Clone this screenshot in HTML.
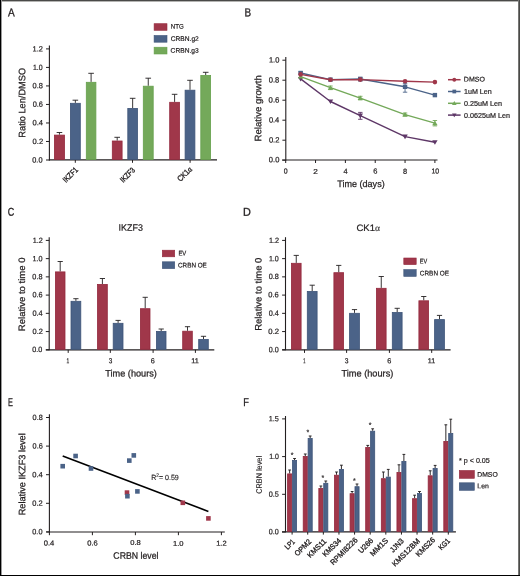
<!DOCTYPE html>
<html><head><meta charset="utf-8"><style>
html,body{margin:0;padding:0;background:#fff;}
svg{display:block;will-change:transform;}
text{font-family:"Liberation Sans",sans-serif;fill:#231f20;stroke:#231f20;stroke-width:0.15px;}
</style></head><body>
<svg width="520" height="576" viewBox="0 0 520 576">
<rect x="0" y="0" width="520" height="576" fill="#ffffff"/>
<text id="t1" font-size="11.4" style="stroke-width:0.3px" transform="translate(8.042 16.152) matrix(0.8829 .0005 0 1 0 0)">A</text>
<line x1="49.4" y1="45.6" x2="49.4" y2="160.4" stroke="#231f20" stroke-width="1.1"/>
<line x1="46" y1="160" x2="49.4" y2="160" stroke="#231f20" stroke-width="1"/>
<text id="t2" font-size="7.58" style="stroke-width:0.22px" text-anchor="end" transform="translate(42.509 162.413) matrix(0.9730 .0005 0 1 0 0)">0.0</text>
<line x1="46" y1="141.48" x2="49.4" y2="141.48" stroke="#231f20" stroke-width="1"/>
<text id="t3" font-size="7.58" style="stroke-width:0.22px" text-anchor="end" transform="translate(43.077 143.909) matrix(0.9951 .0005 0 1 0 0)">0.2</text>
<line x1="46" y1="122.97" x2="49.4" y2="122.97" stroke="#231f20" stroke-width="1"/>
<text id="t4" font-size="7.58" style="stroke-width:0.22px" text-anchor="end" transform="translate(42.973 125.179) matrix(0.9930 .0005 0 1 0 0)">0.4</text>
<line x1="46" y1="104.45" x2="49.4" y2="104.45" stroke="#231f20" stroke-width="1"/>
<text id="t5" font-size="7.58" style="stroke-width:0.22px" text-anchor="end" transform="translate(42.937 106.843) matrix(0.9746 .0005 0 1 0 0)">0.6</text>
<line x1="46" y1="85.93" x2="49.4" y2="85.93" stroke="#231f20" stroke-width="1"/>
<text id="t6" font-size="7.58" style="stroke-width:0.22px" text-anchor="end" transform="translate(42.893 88.308) matrix(0.9788 .0005 0 1 0 0)">0.8</text>
<line x1="46" y1="67.42" x2="49.4" y2="67.42" stroke="#231f20" stroke-width="1"/>
<text id="t7" font-size="7.58" style="stroke-width:0.22px" text-anchor="end" transform="translate(42.624 69.921) matrix(0.9179 .0005 0 1 0 0)">1.0</text>
<line x1="46" y1="48.9" x2="49.4" y2="48.9" stroke="#231f20" stroke-width="1"/>
<text id="t8" font-size="7.58" style="stroke-width:0.22px" text-anchor="end" transform="translate(42.928 51.394) matrix(0.9815 .0005 0 1 0 0)">1.2</text>
<line x1="48.9" y1="159.9" x2="217" y2="159.9" stroke="#231f20" stroke-width="1.2"/>
<line x1="59.45" y1="134.7" x2="59.45" y2="132.5" stroke="#231f20" stroke-width="0.9"/>
<line x1="56.65" y1="132.5" x2="62.25" y2="132.5" stroke="#231f20" stroke-width="0.9"/>
<rect x="54.4" y="135.1" width="10.1" height="24.3" fill="#a0374a" stroke="#93283d" stroke-width="0.8"/>
<line x1="75.35" y1="102.9" x2="75.35" y2="100.2" stroke="#231f20" stroke-width="0.9"/>
<line x1="72.55" y1="100.2" x2="78.15" y2="100.2" stroke="#231f20" stroke-width="0.9"/>
<rect x="70.4" y="103.3" width="9.9" height="56.1" fill="#4b6388" stroke="#3e5478" stroke-width="0.8"/>
<line x1="91.1" y1="81.9" x2="91.1" y2="73.3" stroke="#231f20" stroke-width="0.9"/>
<line x1="88.3" y1="73.3" x2="93.9" y2="73.3" stroke="#231f20" stroke-width="0.9"/>
<rect x="86.3" y="82.3" width="9.6" height="77.1" fill="#74a95a" stroke="#66a04c" stroke-width="0.8"/>
<line x1="117.2" y1="140.6" x2="117.2" y2="137.3" stroke="#231f20" stroke-width="0.9"/>
<line x1="114.4" y1="137.3" x2="120" y2="137.3" stroke="#231f20" stroke-width="0.9"/>
<rect x="112.3" y="141" width="9.8" height="18.4" fill="#a0374a" stroke="#93283d" stroke-width="0.8"/>
<line x1="132.65" y1="108" x2="132.65" y2="98.3" stroke="#231f20" stroke-width="0.9"/>
<line x1="129.85" y1="98.3" x2="135.45" y2="98.3" stroke="#231f20" stroke-width="0.9"/>
<rect x="127.8" y="108.4" width="9.7" height="51" fill="#4b6388" stroke="#3e5478" stroke-width="0.8"/>
<line x1="148.25" y1="85.8" x2="148.25" y2="78.2" stroke="#231f20" stroke-width="0.9"/>
<line x1="145.45" y1="78.2" x2="151.05" y2="78.2" stroke="#231f20" stroke-width="0.9"/>
<rect x="143.3" y="86.2" width="9.9" height="73.2" fill="#74a95a" stroke="#66a04c" stroke-width="0.8"/>
<line x1="174.6" y1="101.9" x2="174.6" y2="94.3" stroke="#231f20" stroke-width="0.9"/>
<line x1="171.8" y1="94.3" x2="177.4" y2="94.3" stroke="#231f20" stroke-width="0.9"/>
<rect x="169.7" y="102.3" width="9.8" height="57.1" fill="#a0374a" stroke="#93283d" stroke-width="0.8"/>
<line x1="190" y1="89.8" x2="190" y2="80.3" stroke="#231f20" stroke-width="0.9"/>
<line x1="187.2" y1="80.3" x2="192.8" y2="80.3" stroke="#231f20" stroke-width="0.9"/>
<rect x="185.1" y="90.2" width="9.8" height="69.2" fill="#4b6388" stroke="#3e5478" stroke-width="0.8"/>
<line x1="205.7" y1="75" x2="205.7" y2="72.3" stroke="#231f20" stroke-width="0.9"/>
<line x1="202.9" y1="72.3" x2="208.5" y2="72.3" stroke="#231f20" stroke-width="0.9"/>
<rect x="200.8" y="75.4" width="9.8" height="84" fill="#74a95a" stroke="#66a04c" stroke-width="0.8"/>
<line x1="75.3" y1="160" x2="75.3" y2="162.8" stroke="#231f20" stroke-width="1"/>
<line x1="132.5" y1="160" x2="132.5" y2="162.8" stroke="#231f20" stroke-width="1"/>
<line x1="190.1" y1="160" x2="190.1" y2="162.8" stroke="#231f20" stroke-width="1"/>
<text id="rA1" font-size="8" style="stroke-width:0.35px" text-anchor="end" transform="translate(78.605 170.400) rotate(-45) matrix(0.8220 .0005 0 1 0 0)">IKZF1</text>
<text id="rA2" font-size="8" style="stroke-width:0.35px" text-anchor="end" transform="translate(135.465 170.850) rotate(-45) matrix(0.7977 .0005 0 1 0 0)">IKZF3</text>
<text id="rA3" font-size="8" style="stroke-width:0.35px" text-anchor="end" transform="translate(192.595 169.860) rotate(-45) matrix(0.8663 .0005 0 1 0 0)">CK1<tspan font-family="Liberation Serif">α</tspan></text>
<text id="t9" font-size="9.35" style="stroke-width:0.25px" text-anchor="middle" transform="translate(25.197 102.775) rotate(-90) matrix(0.9877 .0005 0 1 0 0)">Ratio Len/DMSO</text>
<rect x="154.1" y="23.7" width="12.9" height="6.6" fill="#a0374a" stroke="#93283d" stroke-width="0.6"/>
<text id="t10" font-size="6.75" style="stroke-width:0.2px" transform="translate(170.859 28.627) matrix(0.9163 .0005 0 1 0 0)">NTG</text>
<rect x="154.1" y="35.5" width="12.9" height="6.7" fill="#4b6388" stroke="#3e5478" stroke-width="0.6"/>
<text id="t11" font-size="6.75" style="stroke-width:0.2px" transform="translate(170.675 41.087) matrix(0.9884 .0005 0 1 0 0)">CRBN.g2</text>
<rect x="154.1" y="47.2" width="12.9" height="6.8" fill="#74a95a" stroke="#66a04c" stroke-width="0.6"/>
<text id="t12" font-size="6.75" style="stroke-width:0.2px" transform="translate(170.623 52.651) matrix(0.9857 .0005 0 1 0 0)">CRBN.g3</text>
<text id="t13" font-size="11.4" style="stroke-width:0.3px" transform="translate(244.394 16.187) matrix(0.8741 .0005 0 1 0 0)">B</text>
<line x1="285.8" y1="57" x2="285.8" y2="160.4" stroke="#231f20" stroke-width="1.1"/>
<line x1="282.4" y1="160.2" x2="285.8" y2="160.2" stroke="#231f20" stroke-width="1"/>
<text id="t14" font-size="7.58" style="stroke-width:0.22px" text-anchor="end" transform="translate(279.325 162.359) matrix(0.9937 .0005 0 1 0 0)">0.0</text>
<line x1="282.4" y1="140.2" x2="285.8" y2="140.2" stroke="#231f20" stroke-width="1"/>
<text id="t15" font-size="7.58" style="stroke-width:0.22px" text-anchor="end" transform="translate(279.439 142.450) matrix(1.0021 .0005 0 1 0 0)">0.2</text>
<line x1="282.4" y1="120.2" x2="285.8" y2="120.2" stroke="#231f20" stroke-width="1"/>
<text id="t16" font-size="7.58" style="stroke-width:0.22px" text-anchor="end" transform="translate(279.266 122.431) matrix(0.9875 .0005 0 1 0 0)">0.4</text>
<line x1="282.4" y1="100.2" x2="285.8" y2="100.2" stroke="#231f20" stroke-width="1"/>
<text id="t17" font-size="7.58" style="stroke-width:0.22px" text-anchor="end" transform="translate(279.427 102.392) matrix(1.0279 .0005 0 1 0 0)">0.6</text>
<line x1="282.4" y1="80.2" x2="285.8" y2="80.2" stroke="#231f20" stroke-width="1"/>
<text id="t18" font-size="7.58" style="stroke-width:0.22px" text-anchor="end" transform="translate(279.252 82.405) matrix(0.9995 .0005 0 1 0 0)">0.8</text>
<line x1="282.4" y1="60.2" x2="285.8" y2="60.2" stroke="#231f20" stroke-width="1"/>
<text id="t19" font-size="7.58" style="stroke-width:0.22px" text-anchor="end" transform="translate(279.379 62.485) matrix(0.9897 .0005 0 1 0 0)">1.0</text>
<line x1="282.1" y1="160" x2="437.5" y2="160" stroke="#231f20" stroke-width="1.2"/>
<line x1="285.7" y1="160" x2="285.7" y2="163" stroke="#231f20" stroke-width="1"/>
<text id="t20" font-size="7.25" style="stroke-width:0.22px" text-anchor="middle" transform="translate(285.774 173.604) matrix(0.9588 .0005 0 1 0 0)">0</text>
<line x1="315.54" y1="160" x2="315.54" y2="163" stroke="#231f20" stroke-width="1"/>
<text id="t21" font-size="7.25" style="stroke-width:0.22px" text-anchor="middle" transform="translate(315.633 173.558) matrix(1.1236 .0005 0 1 0 0)">2</text>
<line x1="345.38" y1="160" x2="345.38" y2="163" stroke="#231f20" stroke-width="1"/>
<text id="t22" font-size="7.25" style="stroke-width:0.22px" text-anchor="middle" transform="translate(345.521 173.691) matrix(1.0172 .0005 0 1 0 0)">4</text>
<line x1="375.22" y1="160" x2="375.22" y2="163" stroke="#231f20" stroke-width="1"/>
<text id="t23" font-size="7.25" style="stroke-width:0.22px" text-anchor="middle" transform="translate(375.430 173.488) matrix(1.0367 .0005 0 1 0 0)">6</text>
<line x1="405.06" y1="160" x2="405.06" y2="163" stroke="#231f20" stroke-width="1"/>
<text id="t24" font-size="7.25" style="stroke-width:0.22px" text-anchor="middle" transform="translate(405.130 173.643) matrix(1.0319 .0005 0 1 0 0)">8</text>
<line x1="434.9" y1="160" x2="434.9" y2="163" stroke="#231f20" stroke-width="1"/>
<text id="t25" font-size="7.25" style="stroke-width:0.22px" text-anchor="middle" transform="translate(435.315 173.569) matrix(0.9562 .0005 0 1 0 0)">10</text>
<text id="t26" font-size="9.35" style="stroke-width:0.25px" text-anchor="middle" transform="translate(360.984 186.920) matrix(0.9686 .0005 0 1 0 0)">Time (days)</text>
<text id="t27" font-size="9.35" style="stroke-width:0.25px" text-anchor="middle" transform="translate(261.264 108.325) rotate(-90) matrix(1.0280 .0005 0 1 0 0)">Relative growth</text>
<polyline points="300.62,78.9 330.46,101.5 360.3,115.6 405.06,136.6 434.9,142.3" fill="none" stroke="#5e3767" stroke-width="1.4" stroke-linejoin="round"/>
<line x1="360.3" y1="112.4" x2="360.3" y2="119.3" stroke="#5e3767" stroke-width="0.9"/>
<line x1="358.1" y1="112.4" x2="362.5" y2="112.4" stroke="#5e3767" stroke-width="0.9"/>
<line x1="358.1" y1="119.3" x2="362.5" y2="119.3" stroke="#5e3767" stroke-width="0.9"/>
<path d="M297.92 76.88L303.32 76.88L300.62 81.47Z" fill="#5e3767"/>
<path d="M327.76 99.47L333.16 99.47L330.46 104.06Z" fill="#5e3767"/>
<path d="M357.6 113.57L363 113.57L360.3 118.16Z" fill="#5e3767"/>
<path d="M402.36 134.57L407.76 134.57L405.06 139.16Z" fill="#5e3767"/>
<path d="M432.2 140.28L437.6 140.28L434.9 144.87Z" fill="#5e3767"/>
<polyline points="300.62,76.6 330.46,87.7 360.3,98.1 405.06,114.6 434.9,123.2" fill="none" stroke="#74a95a" stroke-width="1.4" stroke-linejoin="round"/>
<line x1="330.46" y1="86" x2="330.46" y2="89.6" stroke="#74a95a" stroke-width="0.9"/>
<line x1="328.26" y1="86" x2="332.66" y2="86" stroke="#74a95a" stroke-width="0.9"/>
<line x1="328.26" y1="89.6" x2="332.66" y2="89.6" stroke="#74a95a" stroke-width="0.9"/>
<line x1="360.3" y1="96.3" x2="360.3" y2="99.9" stroke="#74a95a" stroke-width="0.9"/>
<line x1="358.1" y1="96.3" x2="362.5" y2="96.3" stroke="#74a95a" stroke-width="0.9"/>
<line x1="358.1" y1="99.9" x2="362.5" y2="99.9" stroke="#74a95a" stroke-width="0.9"/>
<line x1="405.06" y1="113" x2="405.06" y2="116.2" stroke="#74a95a" stroke-width="0.9"/>
<line x1="402.86" y1="113" x2="407.26" y2="113" stroke="#74a95a" stroke-width="0.9"/>
<line x1="402.86" y1="116.2" x2="407.26" y2="116.2" stroke="#74a95a" stroke-width="0.9"/>
<line x1="434.9" y1="120.5" x2="434.9" y2="125.9" stroke="#74a95a" stroke-width="0.9"/>
<line x1="432.7" y1="120.5" x2="437.1" y2="120.5" stroke="#74a95a" stroke-width="0.9"/>
<line x1="432.7" y1="125.9" x2="437.1" y2="125.9" stroke="#74a95a" stroke-width="0.9"/>
<path d="M297.92 78.62L303.32 78.62L300.62 74.03Z" fill="#74a95a"/>
<path d="M327.76 89.73L333.16 89.73L330.46 85.14Z" fill="#74a95a"/>
<path d="M357.6 100.12L363 100.12L360.3 95.53Z" fill="#74a95a"/>
<path d="M402.36 116.62L407.76 116.62L405.06 112.03Z" fill="#74a95a"/>
<path d="M432.2 125.23L437.6 125.23L434.9 120.64Z" fill="#74a95a"/>
<polyline points="300.62,73 330.46,79.6 360.3,79 405.06,86.8 434.9,95.1" fill="none" stroke="#4b6388" stroke-width="1.4" stroke-linejoin="round"/>
<line x1="300.62" y1="71.8" x2="300.62" y2="74" stroke="#4b6388" stroke-width="0.9"/>
<line x1="298.42" y1="71.8" x2="302.82" y2="71.8" stroke="#4b6388" stroke-width="0.9"/>
<line x1="298.42" y1="74" x2="302.82" y2="74" stroke="#4b6388" stroke-width="0.9"/>
<line x1="360.3" y1="77.3" x2="360.3" y2="81" stroke="#4b6388" stroke-width="0.9"/>
<line x1="358.1" y1="77.3" x2="362.5" y2="77.3" stroke="#4b6388" stroke-width="0.9"/>
<line x1="358.1" y1="81" x2="362.5" y2="81" stroke="#4b6388" stroke-width="0.9"/>
<line x1="405.06" y1="83.3" x2="405.06" y2="92.2" stroke="#4b6388" stroke-width="0.9"/>
<line x1="402.86" y1="83.3" x2="407.26" y2="83.3" stroke="#4b6388" stroke-width="0.9"/>
<line x1="402.86" y1="92.2" x2="407.26" y2="92.2" stroke="#4b6388" stroke-width="0.9"/>
<rect x="298.42" y="70.8" width="4.4" height="4.4" fill="#4b6388"/>
<rect x="328.26" y="77.4" width="4.4" height="4.4" fill="#4b6388"/>
<rect x="358.1" y="76.8" width="4.4" height="4.4" fill="#4b6388"/>
<rect x="402.86" y="84.6" width="4.4" height="4.4" fill="#4b6388"/>
<rect x="432.7" y="92.9" width="4.4" height="4.4" fill="#4b6388"/>
<polyline points="300.62,74.4 330.46,79.7 360.3,79.6 405.06,81.2 434.9,82.1" fill="none" stroke="#a0374a" stroke-width="1.4" stroke-linejoin="round"/>
<circle cx="300.62" cy="74.4" r="2.3" fill="#a0374a"/>
<circle cx="330.46" cy="79.7" r="2.3" fill="#a0374a"/>
<circle cx="360.3" cy="79.6" r="2.3" fill="#a0374a"/>
<circle cx="405.06" cy="81.2" r="2.3" fill="#a0374a"/>
<circle cx="434.9" cy="82.1" r="2.3" fill="#a0374a"/>
<line x1="448" y1="79.7" x2="460.6" y2="79.7" stroke="#a0374a" stroke-width="1.5"/>
<circle cx="454.3" cy="79.7" r="1.95" fill="#a0374a"/>
<text id="t28" font-size="6.75" style="stroke-width:0.2px" transform="translate(463.814 81.410) matrix(1.0418 .0005 0 1 0 0)">DMSO</text>
<line x1="448" y1="91.5" x2="460.6" y2="91.5" stroke="#4b6388" stroke-width="1.5"/>
<rect x="452.43" y="89.63" width="3.74" height="3.74" fill="#4b6388"/>
<text id="t29" font-size="6.75" style="stroke-width:0.2px" transform="translate(463.997 94.280) matrix(1.0568 .0005 0 1 0 0)">1uM Len</text>
<line x1="448" y1="103.3" x2="460.6" y2="103.3" stroke="#74a95a" stroke-width="1.5"/>
<path d="M452 105.02L456.6 105.02L454.3 101.12Z" fill="#74a95a"/>
<text id="t30" font-size="6.75" style="stroke-width:0.2px" transform="translate(463.918 105.942) matrix(1.0692 .0005 0 1 0 0)">0.25uM Len</text>
<line x1="448" y1="115.1" x2="460.6" y2="115.1" stroke="#5e3767" stroke-width="1.5"/>
<path d="M452 113.38L456.6 113.38L454.3 117.28Z" fill="#5e3767"/>
<text id="t31" font-size="6.75" style="stroke-width:0.2px" transform="translate(464.039 117.565) matrix(1.0642 .0005 0 1 0 0)">0.0625uM Len</text>
<text id="t32" font-size="11.4" style="stroke-width:0.3px" transform="translate(7.814 215.814) matrix(0.7920 .0005 0 1 0 0)">C</text>
<line x1="49.2" y1="237.2" x2="49.2" y2="350.2" stroke="#231f20" stroke-width="1.1"/>
<line x1="45.8" y1="349.8" x2="49.2" y2="349.8" stroke="#231f20" stroke-width="1"/>
<text id="t33" font-size="7.58" style="stroke-width:0.22px" text-anchor="end" transform="translate(42.381 352.102) matrix(0.9550 .0005 0 1 0 0)">0.0</text>
<line x1="45.8" y1="331.57" x2="49.2" y2="331.57" stroke="#231f20" stroke-width="1"/>
<text id="t34" font-size="7.58" style="stroke-width:0.22px" text-anchor="end" transform="translate(42.839 334.104) matrix(0.9777 .0005 0 1 0 0)">0.2</text>
<line x1="45.8" y1="313.33" x2="49.2" y2="313.33" stroke="#231f20" stroke-width="1"/>
<text id="t35" font-size="7.58" style="stroke-width:0.22px" text-anchor="end" transform="translate(42.699 315.803) matrix(0.9744 .0005 0 1 0 0)">0.4</text>
<line x1="45.8" y1="295.1" x2="49.2" y2="295.1" stroke="#231f20" stroke-width="1"/>
<text id="t36" font-size="7.58" style="stroke-width:0.22px" text-anchor="end" transform="translate(42.488 297.317) matrix(0.9566 .0005 0 1 0 0)">0.6</text>
<line x1="45.8" y1="276.87" x2="49.2" y2="276.87" stroke="#231f20" stroke-width="1"/>
<text id="t37" font-size="7.58" style="stroke-width:0.22px" text-anchor="end" transform="translate(42.508 279.168) matrix(0.9682 .0005 0 1 0 0)">0.8</text>
<line x1="45.8" y1="258.63" x2="49.2" y2="258.63" stroke="#231f20" stroke-width="1"/>
<text id="t38" font-size="7.58" style="stroke-width:0.22px" text-anchor="end" transform="translate(42.635 261.152) matrix(0.9540 .0005 0 1 0 0)">1.0</text>
<line x1="45.8" y1="240.4" x2="49.2" y2="240.4" stroke="#231f20" stroke-width="1"/>
<text id="t39" font-size="7.58" style="stroke-width:0.22px" text-anchor="end" transform="translate(42.733 242.893) matrix(0.9598 .0005 0 1 0 0)">1.2</text>
<line x1="45.9" y1="349.8" x2="214.3" y2="349.8" stroke="#231f20" stroke-width="1.2"/>
<line x1="60.2" y1="271.5" x2="60.2" y2="261.5" stroke="#231f20" stroke-width="0.9"/>
<line x1="57.6" y1="261.5" x2="62.8" y2="261.5" stroke="#231f20" stroke-width="0.9"/>
<rect x="55.4" y="271.9" width="9.6" height="77.4" fill="#a0374a" stroke="#93283d" stroke-width="0.8"/>
<line x1="75.9" y1="300.9" x2="75.9" y2="298.7" stroke="#231f20" stroke-width="0.9"/>
<line x1="73.3" y1="298.7" x2="78.5" y2="298.7" stroke="#231f20" stroke-width="0.9"/>
<rect x="71" y="301.3" width="9.8" height="48" fill="#4b6388" stroke="#3e5478" stroke-width="0.8"/>
<line x1="102.4" y1="284" x2="102.4" y2="278.5" stroke="#231f20" stroke-width="0.9"/>
<line x1="99.8" y1="278.5" x2="105" y2="278.5" stroke="#231f20" stroke-width="0.9"/>
<rect x="97.5" y="284.4" width="9.8" height="64.9" fill="#a0374a" stroke="#93283d" stroke-width="0.8"/>
<line x1="118.1" y1="322.9" x2="118.1" y2="320.4" stroke="#231f20" stroke-width="0.9"/>
<line x1="115.5" y1="320.4" x2="120.7" y2="320.4" stroke="#231f20" stroke-width="0.9"/>
<rect x="113.2" y="323.3" width="9.8" height="26" fill="#4b6388" stroke="#3e5478" stroke-width="0.8"/>
<line x1="145.2" y1="308.3" x2="145.2" y2="297.3" stroke="#231f20" stroke-width="0.9"/>
<line x1="142.6" y1="297.3" x2="147.8" y2="297.3" stroke="#231f20" stroke-width="0.9"/>
<rect x="140.4" y="308.7" width="9.6" height="40.6" fill="#a0374a" stroke="#93283d" stroke-width="0.8"/>
<line x1="161.2" y1="331" x2="161.2" y2="329" stroke="#231f20" stroke-width="0.9"/>
<line x1="158.6" y1="329" x2="163.8" y2="329" stroke="#231f20" stroke-width="0.9"/>
<rect x="156.4" y="331.4" width="9.6" height="17.9" fill="#4b6388" stroke="#3e5478" stroke-width="0.8"/>
<line x1="187.5" y1="330.8" x2="187.5" y2="326.7" stroke="#231f20" stroke-width="0.9"/>
<line x1="184.9" y1="326.7" x2="190.1" y2="326.7" stroke="#231f20" stroke-width="0.9"/>
<rect x="182.7" y="331.2" width="9.6" height="18.1" fill="#a0374a" stroke="#93283d" stroke-width="0.8"/>
<line x1="203.5" y1="339" x2="203.5" y2="336.3" stroke="#231f20" stroke-width="0.9"/>
<line x1="200.9" y1="336.3" x2="206.1" y2="336.3" stroke="#231f20" stroke-width="0.9"/>
<rect x="198.7" y="339.4" width="9.6" height="9.9" fill="#4b6388" stroke="#3e5478" stroke-width="0.8"/>
<line x1="68.2" y1="349.8" x2="68.2" y2="352.9" stroke="#231f20" stroke-width="1"/>
<text id="t40" font-size="7.25" style="stroke-width:0.22px" text-anchor="middle" transform="translate(67.898 363.295) matrix(0.6776 .0005 0 1 0 0)">1</text>
<line x1="110.3" y1="349.8" x2="110.3" y2="352.9" stroke="#231f20" stroke-width="1"/>
<text id="t41" font-size="7.25" style="stroke-width:0.22px" text-anchor="middle" transform="translate(110.507 363.324) matrix(0.8870 .0005 0 1 0 0)">3</text>
<line x1="153.1" y1="349.8" x2="153.1" y2="352.9" stroke="#231f20" stroke-width="1"/>
<text id="t42" font-size="7.25" style="stroke-width:0.22px" text-anchor="middle" transform="translate(152.858 363.317) matrix(0.9925 .0005 0 1 0 0)">6</text>
<line x1="195.4" y1="349.8" x2="195.4" y2="352.9" stroke="#231f20" stroke-width="1"/>
<text id="t43" font-size="7.25" style="stroke-width:0.22px" text-anchor="middle" transform="translate(195.125 363.345) matrix(1.0091 .0005 0 1 0 0)">11</text>
<text id="t44" font-size="9.35" style="stroke-width:0.25px" text-anchor="middle" transform="translate(131.091 376.575) matrix(0.9818 .0005 0 1 0 0)">Time (hours)</text>
<text id="t45" font-size="9.35" style="stroke-width:0.25px" text-anchor="middle" transform="translate(25.065 294.352) rotate(-90) matrix(1.0203 .0005 0 1 0 0)">Relative to time 0</text>
<text id="titleC" font-size="9.3" style="stroke-width:0.22px" transform="translate(118.608 230.634) matrix(0.9614 .0005 0 1 0 0)">IKZF3</text>
<rect x="162.3" y="250.2" width="12.4" height="6.6" fill="#a0374a" stroke="#93283d" stroke-width="0.6"/>
<rect x="162.3" y="261.8" width="12.4" height="6.8" fill="#4b6388" stroke="#3e5478" stroke-width="0.6"/>
<text id="t46" font-size="6.75" style="stroke-width:0.2px" transform="translate(178.426 255.572) matrix(0.8758 .0005 0 1 0 0)">EV</text>
<text id="t47" font-size="6.75" style="stroke-width:0.2px" transform="translate(178.022 267.453) matrix(0.9396 .0005 0 1 0 0)">CRBN OE</text>
<text id="t48" font-size="11.4" style="stroke-width:0.3px" transform="translate(243.060 215.874) matrix(0.9537 .0005 0 1 0 0)">D</text>
<line x1="285.5" y1="237.2" x2="285.5" y2="350.2" stroke="#231f20" stroke-width="1.1"/>
<line x1="282.1" y1="349.8" x2="285.5" y2="349.8" stroke="#231f20" stroke-width="1"/>
<text id="t49" font-size="7.58" style="stroke-width:0.22px" text-anchor="end" transform="translate(278.670 352.154) matrix(0.9438 .0005 0 1 0 0)">0.0</text>
<line x1="282.1" y1="331.57" x2="285.5" y2="331.57" stroke="#231f20" stroke-width="1"/>
<text id="t50" font-size="7.58" style="stroke-width:0.22px" text-anchor="end" transform="translate(279.045 334.103) matrix(1.0158 .0005 0 1 0 0)">0.2</text>
<line x1="282.1" y1="313.33" x2="285.5" y2="313.33" stroke="#231f20" stroke-width="1"/>
<text id="t51" font-size="7.58" style="stroke-width:0.22px" text-anchor="end" transform="translate(278.824 315.808) matrix(0.9628 .0005 0 1 0 0)">0.4</text>
<line x1="282.1" y1="295.1" x2="285.5" y2="295.1" stroke="#231f20" stroke-width="1"/>
<text id="t52" font-size="7.58" style="stroke-width:0.22px" text-anchor="end" transform="translate(278.814 297.332) matrix(0.9927 .0005 0 1 0 0)">0.6</text>
<line x1="282.1" y1="276.87" x2="285.5" y2="276.87" stroke="#231f20" stroke-width="1"/>
<text id="t53" font-size="7.58" style="stroke-width:0.22px" text-anchor="end" transform="translate(278.870 279.068) matrix(0.9638 .0005 0 1 0 0)">0.8</text>
<line x1="282.1" y1="258.63" x2="285.5" y2="258.63" stroke="#231f20" stroke-width="1"/>
<text id="t54" font-size="7.58" style="stroke-width:0.22px" text-anchor="end" transform="translate(278.725 261.137) matrix(0.9359 .0005 0 1 0 0)">1.0</text>
<line x1="282.1" y1="240.4" x2="285.5" y2="240.4" stroke="#231f20" stroke-width="1"/>
<text id="t55" font-size="7.58" style="stroke-width:0.22px" text-anchor="end" transform="translate(279.129 242.882) matrix(0.9620 .0005 0 1 0 0)">1.2</text>
<line x1="282.2" y1="349.8" x2="450.6" y2="349.8" stroke="#231f20" stroke-width="1.2"/>
<line x1="296.25" y1="262.9" x2="296.25" y2="255.4" stroke="#231f20" stroke-width="0.9"/>
<line x1="293.65" y1="255.4" x2="298.85" y2="255.4" stroke="#231f20" stroke-width="0.9"/>
<rect x="291.4" y="263.3" width="9.7" height="86" fill="#a0374a" stroke="#93283d" stroke-width="0.8"/>
<line x1="312.2" y1="291" x2="312.2" y2="285.2" stroke="#231f20" stroke-width="0.9"/>
<line x1="309.6" y1="285.2" x2="314.8" y2="285.2" stroke="#231f20" stroke-width="0.9"/>
<rect x="307.3" y="291.4" width="9.8" height="57.9" fill="#4b6388" stroke="#3e5478" stroke-width="0.8"/>
<line x1="338.75" y1="272.3" x2="338.75" y2="265.4" stroke="#231f20" stroke-width="0.9"/>
<line x1="336.15" y1="265.4" x2="341.35" y2="265.4" stroke="#231f20" stroke-width="0.9"/>
<rect x="333.9" y="272.7" width="9.7" height="76.6" fill="#a0374a" stroke="#93283d" stroke-width="0.8"/>
<line x1="354.5" y1="312.9" x2="354.5" y2="309.6" stroke="#231f20" stroke-width="0.9"/>
<line x1="351.9" y1="309.6" x2="357.1" y2="309.6" stroke="#231f20" stroke-width="0.9"/>
<rect x="349.6" y="313.3" width="9.8" height="36" fill="#4b6388" stroke="#3e5478" stroke-width="0.8"/>
<line x1="381.25" y1="287.9" x2="381.25" y2="276.5" stroke="#231f20" stroke-width="0.9"/>
<line x1="378.65" y1="276.5" x2="383.85" y2="276.5" stroke="#231f20" stroke-width="0.9"/>
<rect x="376.4" y="288.3" width="9.7" height="61" fill="#a0374a" stroke="#93283d" stroke-width="0.8"/>
<line x1="397.2" y1="312.1" x2="397.2" y2="308.3" stroke="#231f20" stroke-width="0.9"/>
<line x1="394.6" y1="308.3" x2="399.8" y2="308.3" stroke="#231f20" stroke-width="0.9"/>
<rect x="392.3" y="312.5" width="9.8" height="36.8" fill="#4b6388" stroke="#3e5478" stroke-width="0.8"/>
<line x1="423.75" y1="300.4" x2="423.75" y2="296.5" stroke="#231f20" stroke-width="0.9"/>
<line x1="421.15" y1="296.5" x2="426.35" y2="296.5" stroke="#231f20" stroke-width="0.9"/>
<rect x="418.9" y="300.8" width="9.7" height="48.5" fill="#a0374a" stroke="#93283d" stroke-width="0.8"/>
<line x1="439.5" y1="319.2" x2="439.5" y2="315.4" stroke="#231f20" stroke-width="0.9"/>
<line x1="436.9" y1="315.4" x2="442.1" y2="315.4" stroke="#231f20" stroke-width="0.9"/>
<rect x="434.6" y="319.6" width="9.8" height="29.7" fill="#4b6388" stroke="#3e5478" stroke-width="0.8"/>
<line x1="304.5" y1="349.8" x2="304.5" y2="352.9" stroke="#231f20" stroke-width="1"/>
<text id="t56" font-size="7.25" style="stroke-width:0.22px" text-anchor="middle" transform="translate(304.332 363.257) matrix(0.5490 .0005 0 1 0 0)">1</text>
<line x1="346.6" y1="349.8" x2="346.6" y2="352.9" stroke="#231f20" stroke-width="1"/>
<text id="t57" font-size="7.25" style="stroke-width:0.22px" text-anchor="middle" transform="translate(346.603 363.362) matrix(0.9252 .0005 0 1 0 0)">3</text>
<line x1="389.4" y1="349.8" x2="389.4" y2="352.9" stroke="#231f20" stroke-width="1"/>
<text id="t58" font-size="7.25" style="stroke-width:0.22px" text-anchor="middle" transform="translate(389.351 363.258) matrix(1.0132 .0005 0 1 0 0)">6</text>
<line x1="431.7" y1="349.8" x2="431.7" y2="352.9" stroke="#231f20" stroke-width="1"/>
<text id="t59" font-size="7.25" style="stroke-width:0.22px" text-anchor="middle" transform="translate(431.549 363.326) matrix(0.9859 .0005 0 1 0 0)">11</text>
<text id="t60" font-size="9.35" style="stroke-width:0.25px" text-anchor="middle" transform="translate(367.402 376.598) matrix(0.9868 .0005 0 1 0 0)">Time (hours)</text>
<text id="t61" font-size="9.35" style="stroke-width:0.25px" text-anchor="middle" transform="translate(261.420 294.248) rotate(-90) matrix(1.0161 .0005 0 1 0 0)">Relative to time 0</text>
<text id="titleD" font-size="9.3" style="stroke-width:0.22px" transform="translate(356.457 230.906) matrix(1.0227 .0005 0 1 0 0)">CK1<tspan font-family="Liberation Serif" fill="#555">α</tspan></text>
<rect x="403.8" y="258" width="12.4" height="6.6" fill="#a0374a" stroke="#93283d" stroke-width="0.6"/>
<rect x="403.8" y="269.6" width="12.4" height="6.8" fill="#4b6388" stroke="#3e5478" stroke-width="0.6"/>
<text id="t62" font-size="6.75" style="stroke-width:0.2px" transform="translate(419.712 263.517) matrix(0.8240 .0005 0 1 0 0)">EV</text>
<text id="t63" font-size="6.75" style="stroke-width:0.2px" transform="translate(419.848 275.387) matrix(0.9517 .0005 0 1 0 0)">CRBN OE</text>
<text id="t64" font-size="11.4" style="stroke-width:0.3px" transform="translate(7.910 405.958) matrix(0.6446 .0005 0 1 0 0)">E</text>
<line x1="49.4" y1="414.2" x2="49.4" y2="532.3" stroke="#231f20" stroke-width="1.1"/>
<line x1="46" y1="531.9" x2="49.4" y2="531.9" stroke="#231f20" stroke-width="1"/>
<text id="t65" font-size="7.58" style="stroke-width:0.22px" text-anchor="end" transform="translate(42.474 534.311) matrix(0.9665 .0005 0 1 0 0)">0.0</text>
<line x1="46" y1="503.3" x2="49.4" y2="503.3" stroke="#231f20" stroke-width="1"/>
<text id="t66" font-size="7.58" style="stroke-width:0.22px" text-anchor="end" transform="translate(42.746 505.706) matrix(0.9900 .0005 0 1 0 0)">0.2</text>
<line x1="46" y1="474.7" x2="49.4" y2="474.7" stroke="#231f20" stroke-width="1"/>
<text id="t67" font-size="7.58" style="stroke-width:0.22px" text-anchor="end" transform="translate(42.767 477.197) matrix(1.0012 .0005 0 1 0 0)">0.4</text>
<line x1="46" y1="446.1" x2="49.4" y2="446.1" stroke="#231f20" stroke-width="1"/>
<text id="t68" font-size="7.58" style="stroke-width:0.22px" text-anchor="end" transform="translate(42.722 448.382) matrix(0.9609 .0005 0 1 0 0)">0.6</text>
<line x1="46" y1="417.5" x2="49.4" y2="417.5" stroke="#231f20" stroke-width="1"/>
<text id="t69" font-size="7.58" style="stroke-width:0.22px" text-anchor="end" transform="translate(42.749 419.920) matrix(0.9622 .0005 0 1 0 0)">0.8</text>
<line x1="46.3" y1="532" x2="224.8" y2="532" stroke="#231f20" stroke-width="1.2"/>
<line x1="49.4" y1="532" x2="49.4" y2="535.2" stroke="#231f20" stroke-width="1"/>
<text id="t70" font-size="7.25" style="stroke-width:0.22px" text-anchor="middle" transform="translate(48.947 545.388) matrix(1.0440 .0005 0 1 0 0)">0.4</text>
<line x1="92.4" y1="532" x2="92.4" y2="535.2" stroke="#231f20" stroke-width="1"/>
<text id="t71" font-size="7.25" style="stroke-width:0.22px" text-anchor="middle" transform="translate(92.517 545.575) matrix(1.0382 .0005 0 1 0 0)">0.6</text>
<line x1="135.4" y1="532" x2="135.4" y2="535.2" stroke="#231f20" stroke-width="1"/>
<text id="t72" font-size="7.25" style="stroke-width:0.22px" text-anchor="middle" transform="translate(135.478 545.442) matrix(1.0484 .0005 0 1 0 0)">0.8</text>
<line x1="178.4" y1="532" x2="178.4" y2="535.2" stroke="#231f20" stroke-width="1"/>
<text id="t73" font-size="7.25" style="stroke-width:0.22px" text-anchor="middle" transform="translate(178.226 545.589) matrix(1.0498 .0005 0 1 0 0)">1.0</text>
<line x1="221.4" y1="532" x2="221.4" y2="535.2" stroke="#231f20" stroke-width="1"/>
<text id="t74" font-size="7.25" style="stroke-width:0.22px" text-anchor="middle" transform="translate(221.330 545.691) matrix(1.0346 .0005 0 1 0 0)">1.2</text>
<line x1="62.7" y1="456" x2="208.4" y2="511.4" stroke="#000" stroke-width="1.6"/>
<rect x="60.4" y="463.9" width="4.6" height="4.6" fill="#4b6388"/>
<rect x="73.3" y="453.7" width="4.6" height="4.6" fill="#4b6388"/>
<rect x="88.7" y="466.2" width="4.6" height="4.6" fill="#4b6388"/>
<rect x="127" y="458.3" width="4.6" height="4.6" fill="#4b6388"/>
<rect x="131.5" y="453.1" width="4.6" height="4.6" fill="#4b6388"/>
<rect x="124.7" y="490.3" width="4.6" height="4.6" fill="#a0374a"/>
<rect x="125.1" y="493.9" width="4.6" height="4.6" fill="#4b6388"/>
<rect x="135.1" y="489.1" width="4.6" height="4.6" fill="#4b6388"/>
<rect x="180.5" y="500.5" width="4.6" height="4.6" fill="#a0374a"/>
<rect x="206.1" y="516.1" width="4.6" height="4.6" fill="#a0374a"/>
<text id="r2" font-size="7.5" transform="translate(151.218 480.051) matrix(0.9437 .0005 0 1 0 0)">R<tspan font-size="5" dy="-3.2">2</tspan><tspan dy="3.2">= 0.59</tspan></text>
<text id="t75" font-size="9.35" style="stroke-width:0.25px" text-anchor="middle" transform="translate(135.890 558.846) matrix(0.9346 .0005 0 1 0 0)">CRBN level</text>
<text id="t76" font-size="9.35" style="stroke-width:0.25px" text-anchor="middle" transform="translate(25.179 474.261) rotate(-90) matrix(0.9817 .0005 0 1 0 0)">Relative IKZF3 level</text>
<text id="t77" font-size="11.4" style="stroke-width:0.3px" transform="translate(243.181 406.109) matrix(0.8128 .0005 0 1 0 0)">F</text>
<line x1="285.5" y1="416" x2="285.5" y2="532.3" stroke="#231f20" stroke-width="1.1"/>
<line x1="282.1" y1="532" x2="285.5" y2="532" stroke="#231f20" stroke-width="1"/>
<text id="t78" font-size="7.58" style="stroke-width:0.22px" text-anchor="end" transform="translate(278.685 534.170) matrix(0.9444 .0005 0 1 0 0)">0.0</text>
<line x1="282.1" y1="494.3" x2="285.5" y2="494.3" stroke="#231f20" stroke-width="1"/>
<text id="t79" font-size="7.58" style="stroke-width:0.22px" text-anchor="end" transform="translate(278.836 496.874) matrix(0.9622 .0005 0 1 0 0)">0.5</text>
<line x1="282.1" y1="456.6" x2="285.5" y2="456.6" stroke="#231f20" stroke-width="1"/>
<text id="t80" font-size="7.58" style="stroke-width:0.22px" text-anchor="end" transform="translate(278.828 459.034) matrix(0.9206 .0005 0 1 0 0)">1.0</text>
<line x1="282.1" y1="418.9" x2="285.5" y2="418.9" stroke="#231f20" stroke-width="1"/>
<text id="t81" font-size="7.58" style="stroke-width:0.22px" text-anchor="end" transform="translate(278.813 421.187) matrix(0.9523 .0005 0 1 0 0)">1.5</text>
<line x1="282" y1="531.9" x2="455.9" y2="531.9" stroke="#231f20" stroke-width="1.2"/>
<line x1="289.65" y1="473.5" x2="289.65" y2="470" stroke="#231f20" stroke-width="0.95"/>
<line x1="288.25" y1="470" x2="291.05" y2="470" stroke="#231f20" stroke-width="0.95"/>
<rect x="287.6" y="473.9" width="4.1" height="57.5" fill="#a0374a" stroke="#93283d" stroke-width="0.8"/>
<line x1="294.55" y1="460" x2="294.55" y2="458.5" stroke="#231f20" stroke-width="0.95"/>
<line x1="293.15" y1="458.5" x2="295.95" y2="458.5" stroke="#231f20" stroke-width="0.95"/>
<rect x="292.5" y="460.4" width="4.1" height="71" fill="#4b6388" stroke="#3e5478" stroke-width="0.8"/>
<line x1="292.1" y1="531.9" x2="292.1" y2="534.6" stroke="#231f20" stroke-width="1"/>
<line x1="305.27" y1="456" x2="305.27" y2="454" stroke="#231f20" stroke-width="0.95"/>
<line x1="303.87" y1="454" x2="306.67" y2="454" stroke="#231f20" stroke-width="0.95"/>
<rect x="303.22" y="456.4" width="4.1" height="75" fill="#a0374a" stroke="#93283d" stroke-width="0.8"/>
<line x1="310.17" y1="438.1" x2="310.17" y2="436" stroke="#231f20" stroke-width="0.95"/>
<line x1="308.77" y1="436" x2="311.57" y2="436" stroke="#231f20" stroke-width="0.95"/>
<rect x="308.12" y="438.5" width="4.1" height="92.9" fill="#4b6388" stroke="#3e5478" stroke-width="0.8"/>
<line x1="307.72" y1="531.9" x2="307.72" y2="534.6" stroke="#231f20" stroke-width="1"/>
<line x1="320.89" y1="488.1" x2="320.89" y2="486" stroke="#231f20" stroke-width="0.95"/>
<line x1="319.49" y1="486" x2="322.29" y2="486" stroke="#231f20" stroke-width="0.95"/>
<rect x="318.84" y="488.5" width="4.1" height="42.9" fill="#a0374a" stroke="#93283d" stroke-width="0.8"/>
<line x1="325.79" y1="482.9" x2="325.79" y2="481" stroke="#231f20" stroke-width="0.95"/>
<line x1="324.39" y1="481" x2="327.19" y2="481" stroke="#231f20" stroke-width="0.95"/>
<rect x="323.74" y="483.3" width="4.1" height="48.1" fill="#4b6388" stroke="#3e5478" stroke-width="0.8"/>
<line x1="323.34" y1="531.9" x2="323.34" y2="534.6" stroke="#231f20" stroke-width="1"/>
<line x1="336.51" y1="474.8" x2="336.51" y2="472" stroke="#231f20" stroke-width="0.95"/>
<line x1="335.11" y1="472" x2="337.91" y2="472" stroke="#231f20" stroke-width="0.95"/>
<rect x="334.46" y="475.2" width="4.1" height="56.2" fill="#a0374a" stroke="#93283d" stroke-width="0.8"/>
<line x1="341.41" y1="469" x2="341.41" y2="465.2" stroke="#231f20" stroke-width="0.95"/>
<line x1="340.01" y1="465.2" x2="342.81" y2="465.2" stroke="#231f20" stroke-width="0.95"/>
<rect x="339.36" y="469.4" width="4.1" height="62" fill="#4b6388" stroke="#3e5478" stroke-width="0.8"/>
<line x1="338.96" y1="531.9" x2="338.96" y2="534.6" stroke="#231f20" stroke-width="1"/>
<line x1="352.13" y1="493.3" x2="352.13" y2="491.5" stroke="#231f20" stroke-width="0.95"/>
<line x1="350.73" y1="491.5" x2="353.53" y2="491.5" stroke="#231f20" stroke-width="0.95"/>
<rect x="350.08" y="493.7" width="4.1" height="37.7" fill="#a0374a" stroke="#93283d" stroke-width="0.8"/>
<line x1="357.03" y1="486.3" x2="357.03" y2="484" stroke="#231f20" stroke-width="0.95"/>
<line x1="355.63" y1="484" x2="358.43" y2="484" stroke="#231f20" stroke-width="0.95"/>
<rect x="354.98" y="486.7" width="4.1" height="44.7" fill="#4b6388" stroke="#3e5478" stroke-width="0.8"/>
<line x1="354.58" y1="531.9" x2="354.58" y2="534.6" stroke="#231f20" stroke-width="1"/>
<line x1="367.75" y1="447.1" x2="367.75" y2="445.4" stroke="#231f20" stroke-width="0.95"/>
<line x1="366.35" y1="445.4" x2="369.15" y2="445.4" stroke="#231f20" stroke-width="0.95"/>
<rect x="365.7" y="447.5" width="4.1" height="83.9" fill="#a0374a" stroke="#93283d" stroke-width="0.8"/>
<line x1="372.65" y1="430.8" x2="372.65" y2="428.8" stroke="#231f20" stroke-width="0.95"/>
<line x1="371.25" y1="428.8" x2="374.05" y2="428.8" stroke="#231f20" stroke-width="0.95"/>
<rect x="370.6" y="431.2" width="4.1" height="100.2" fill="#4b6388" stroke="#3e5478" stroke-width="0.8"/>
<line x1="370.2" y1="531.9" x2="370.2" y2="534.6" stroke="#231f20" stroke-width="1"/>
<line x1="383.37" y1="478.3" x2="383.37" y2="472" stroke="#231f20" stroke-width="0.95"/>
<line x1="381.97" y1="472" x2="384.77" y2="472" stroke="#231f20" stroke-width="0.95"/>
<rect x="381.32" y="478.7" width="4.1" height="52.7" fill="#a0374a" stroke="#93283d" stroke-width="0.8"/>
<line x1="388.27" y1="476.7" x2="388.27" y2="469.4" stroke="#231f20" stroke-width="0.95"/>
<line x1="386.87" y1="469.4" x2="389.67" y2="469.4" stroke="#231f20" stroke-width="0.95"/>
<rect x="386.22" y="477.1" width="4.1" height="54.3" fill="#4b6388" stroke="#3e5478" stroke-width="0.8"/>
<line x1="385.82" y1="531.9" x2="385.82" y2="534.6" stroke="#231f20" stroke-width="1"/>
<line x1="398.99" y1="472" x2="398.99" y2="464.8" stroke="#231f20" stroke-width="0.95"/>
<line x1="397.59" y1="464.8" x2="400.39" y2="464.8" stroke="#231f20" stroke-width="0.95"/>
<rect x="396.94" y="472.4" width="4.1" height="59" fill="#a0374a" stroke="#93283d" stroke-width="0.8"/>
<line x1="403.89" y1="461" x2="403.89" y2="454.4" stroke="#231f20" stroke-width="0.95"/>
<line x1="402.49" y1="454.4" x2="405.29" y2="454.4" stroke="#231f20" stroke-width="0.95"/>
<rect x="401.84" y="461.4" width="4.1" height="70" fill="#4b6388" stroke="#3e5478" stroke-width="0.8"/>
<line x1="401.44" y1="531.9" x2="401.44" y2="534.6" stroke="#231f20" stroke-width="1"/>
<line x1="414.61" y1="498.3" x2="414.61" y2="495.2" stroke="#231f20" stroke-width="0.95"/>
<line x1="413.21" y1="495.2" x2="416.01" y2="495.2" stroke="#231f20" stroke-width="0.95"/>
<rect x="412.56" y="498.7" width="4.1" height="32.7" fill="#a0374a" stroke="#93283d" stroke-width="0.8"/>
<line x1="419.51" y1="493.1" x2="419.51" y2="491.5" stroke="#231f20" stroke-width="0.95"/>
<line x1="418.11" y1="491.5" x2="420.91" y2="491.5" stroke="#231f20" stroke-width="0.95"/>
<rect x="417.46" y="493.5" width="4.1" height="37.9" fill="#4b6388" stroke="#3e5478" stroke-width="0.8"/>
<line x1="417.06" y1="531.9" x2="417.06" y2="534.6" stroke="#231f20" stroke-width="1"/>
<line x1="430.23" y1="475.4" x2="430.23" y2="470.8" stroke="#231f20" stroke-width="0.95"/>
<line x1="428.83" y1="470.8" x2="431.63" y2="470.8" stroke="#231f20" stroke-width="0.95"/>
<rect x="428.18" y="475.8" width="4.1" height="55.6" fill="#a0374a" stroke="#93283d" stroke-width="0.8"/>
<line x1="435.13" y1="468.1" x2="435.13" y2="465.4" stroke="#231f20" stroke-width="0.95"/>
<line x1="433.73" y1="465.4" x2="436.53" y2="465.4" stroke="#231f20" stroke-width="0.95"/>
<rect x="433.08" y="468.5" width="4.1" height="62.9" fill="#4b6388" stroke="#3e5478" stroke-width="0.8"/>
<line x1="432.68" y1="531.9" x2="432.68" y2="534.6" stroke="#231f20" stroke-width="1"/>
<line x1="445.85" y1="441" x2="445.85" y2="424.8" stroke="#231f20" stroke-width="0.95"/>
<line x1="444.45" y1="424.8" x2="447.25" y2="424.8" stroke="#231f20" stroke-width="0.95"/>
<rect x="443.8" y="441.4" width="4.1" height="90" fill="#a0374a" stroke="#93283d" stroke-width="0.8"/>
<line x1="450.75" y1="433.1" x2="450.75" y2="419.2" stroke="#231f20" stroke-width="0.95"/>
<line x1="449.35" y1="419.2" x2="452.15" y2="419.2" stroke="#231f20" stroke-width="0.95"/>
<rect x="448.7" y="433.5" width="4.1" height="97.9" fill="#4b6388" stroke="#3e5478" stroke-width="0.8"/>
<line x1="448.3" y1="531.9" x2="448.3" y2="534.6" stroke="#231f20" stroke-width="1"/>
<text id="t82" font-size="7" text-anchor="middle" transform="translate(292.100 457.200) matrix(1.0000 .0005 0 1 0 0)">*</text>
<text id="t83" font-size="7" text-anchor="middle" transform="translate(307.800 434.400) matrix(1.0000 .0005 0 1 0 0)">*</text>
<text id="t84" font-size="7" text-anchor="middle" transform="translate(322.900 480.000) matrix(1.0000 .0005 0 1 0 0)">*</text>
<text id="t85" font-size="7" text-anchor="middle" transform="translate(354.300 483.000) matrix(1.0000 .0005 0 1 0 0)">*</text>
<text id="t86" font-size="7" text-anchor="middle" transform="translate(370.000 427.300) matrix(1.0000 .0005 0 1 0 0)">*</text>
<text id="rF0" font-size="7.6" style="stroke-width:0.32px" text-anchor="end" transform="translate(295.405 542.330) rotate(-45) matrix(0.7933 .0005 0 1 0 0)">LP1</text>
<text id="rF1" font-size="7.6" style="stroke-width:0.32px" text-anchor="end" transform="translate(311.695 542.330) rotate(-45) matrix(0.9338 .0005 0 1 0 0)">OPM2</text>
<text id="rF2" font-size="7.6" style="stroke-width:0.32px" text-anchor="end" transform="translate(326.765 541.880) rotate(-45) matrix(0.9538 .0005 0 1 0 0)">KMS11</text>
<text id="rF3" font-size="7.6" style="stroke-width:0.32px" text-anchor="end" transform="translate(341.645 541.160) rotate(-45) matrix(0.9190 .0005 0 1 0 0)">KMS34</text>
<text id="rF4" font-size="7.6" style="stroke-width:0.32px" text-anchor="end" transform="translate(358.155 540.530) rotate(-45) matrix(0.9851 .0005 0 1 0 0)">RPMI8226</text>
<text id="rF5" font-size="7.6" style="stroke-width:0.32px" text-anchor="end" transform="translate(373.755 541.160) rotate(-45) matrix(0.9833 .0005 0 1 0 0)">U266</text>
<text id="rF6" font-size="7.6" style="stroke-width:0.32px" text-anchor="end" transform="translate(388.725 541.160) rotate(-45) matrix(1.0126 .0005 0 1 0 0)">MM1S</text>
<text id="rF7" font-size="7.6" style="stroke-width:0.32px" text-anchor="end" transform="translate(404.325 541.610) rotate(-45) matrix(0.9226 .0005 0 1 0 0)">JJN3</text>
<text id="rF8" font-size="7.6" style="stroke-width:0.32px" text-anchor="end" transform="translate(420.385 541.610) rotate(-45) matrix(0.9871 .0005 0 1 0 0)">KMS12BM</text>
<text id="rF9" font-size="7.6" style="stroke-width:0.32px" text-anchor="end" transform="translate(435.535 540.530) rotate(-45) matrix(0.9515 .0005 0 1 0 0)">KMS26</text>
<text id="rF10" font-size="7.6" style="stroke-width:0.32px" text-anchor="end" transform="translate(450.605 541.610) rotate(-45) matrix(0.8364 .0005 0 1 0 0)">KG1</text>
<text id="t87" font-size="7.85" text-anchor="middle" transform="translate(261.825 474.877) rotate(-90) matrix(0.9339 .0005 0 1 0 0)">CRBN level</text>
<text id="t88" font-size="6.75" style="stroke-width:0.2px" transform="translate(459.024 463.196) matrix(1.0610 .0005 0 1 0 0)">* p &lt; 0.05</text>
<rect x="459.3" y="470.5" width="15" height="7.8" fill="#a0374a" stroke="#93283d" stroke-width="0.6"/>
<rect x="459.3" y="482.8" width="15" height="7.5" fill="#4b6388" stroke="#3e5478" stroke-width="0.6"/>
<text id="t89" font-size="6.75" style="stroke-width:0.2px" transform="translate(477.278 476.676) matrix(1.0103 .0005 0 1 0 0)">DMSO</text>
<text id="t90" font-size="6.75" style="stroke-width:0.2px" transform="translate(477.299 488.180) matrix(1.0240 .0005 0 1 0 0)">Len</text>
<rect x="0" y="0" width="520" height="1" fill="#4a4a48"/>
<rect x="0" y="1" width="520" height="1" fill="#b4b4b2"/>
<rect x="518" y="0" width="1" height="576" fill="#767674"/>
<rect x="519" y="0" width="1" height="576" fill="#4a4a48"/>
<rect x="1" y="0" width="1" height="576" fill="#9a9a9a"/>
<rect x="0" y="0" width="1" height="576" fill="#000"/>
<rect x="0" y="575" width="520" height="1" fill="#000"/>
</svg>
</body></html>
